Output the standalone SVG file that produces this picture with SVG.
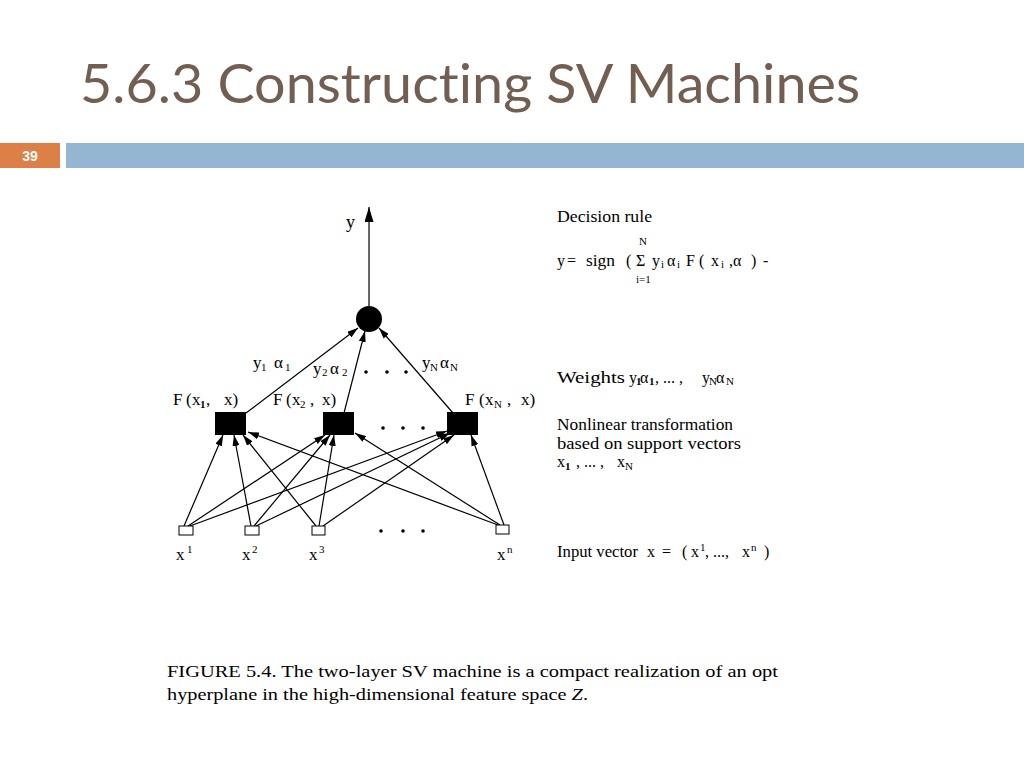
<svg xmlns="http://www.w3.org/2000/svg" width="1024" height="768" viewBox="0 0 1024 768">
<defs>
<style>
.t{font-family:"Liberation Serif",serif;fill:#000;}
.s{font-size:17px;}
.l{font-size:16px;}
.sub{font-size:11px;}
.c{stroke:#000;stroke-width:1.2;fill:none;marker-end:url(#ah);}
</style>
<marker id="ah" viewBox="0 0 11 7" refX="11" refY="3.5" markerWidth="11" markerHeight="7" markerUnits="userSpaceOnUse" orient="auto">
<path d="M0,0 L11,3.5 L0,7 z" fill="#000"/>
</marker>
<marker id="ahy" viewBox="0 0 15 9" refX="15" refY="4.5" markerWidth="15" markerHeight="9" markerUnits="userSpaceOnUse" orient="auto">
<path d="M0,0 L15,4.5 L0,9 z" fill="#000"/>
</marker>
</defs>
<rect width="1024" height="768" fill="#fff"/>
<text x="80" y="103" font-family="Lato,'Liberation Sans',sans-serif" font-size="54" fill="#735f52" style="font-variant-ligatures:none" textLength="780" lengthAdjust="spacingAndGlyphs">5.6.3 Constructing SV Machines</text>
<rect x="0" y="143" width="60" height="25" fill="#dd8047"/>
<text x="30" y="161" font-family="'Liberation Sans',sans-serif" font-size="14" font-weight="bold" fill="#fff" text-anchor="middle">39</text>
<rect x="66" y="143" width="958" height="25" fill="#94b6d2"/>

<g id="connectors">
<line x1="369" y1="306" x2="369" y2="207" stroke="#000" stroke-width="1.2" marker-end="url(#ahy)"/>
<line class="c" x1="246" y1="413" x2="358" y2="328"/>
<line class="c" x1="344" y1="413" x2="365" y2="331"/>
<line class="c" x1="453" y1="413" x2="379" y2="328"/>
<line class="c" x1="184" y1="526" x2="223" y2="435"/>
<line class="c" x1="251" y1="526" x2="234" y2="435"/>
<line class="c" x1="316" y1="526" x2="243" y2="435"/>
<line class="c" x1="498" y1="525" x2="248" y2="432"/>
<line class="c" x1="188" y1="526" x2="325" y2="435"/>
<line class="c" x1="254" y1="526" x2="330" y2="435"/>
<line class="c" x1="319" y1="526" x2="334" y2="435"/>
<line class="c" x1="500" y1="525" x2="355" y2="433"/>
<line class="c" x1="190" y1="526" x2="447" y2="431"/>
<line class="c" x1="256" y1="526" x2="450" y2="433"/>
<line class="c" x1="323" y1="526" x2="454" y2="435"/>
<line class="c" x1="504" y1="525" x2="471" y2="435"/>
</g>

<g id="output-node">
<circle cx="369" cy="319" r="13" fill="#000"/>
<text class="t" x="346" y="228" font-size="18">y</text>
</g>

<g id="hidden-1">
<rect x="215" y="412" width="31" height="23" fill="#000"/>
<text class="t s" x="173" y="405">F<tspan x="186">(</tspan><tspan x="192">x</tspan><tspan class="sub" x="200" dy="3" font-weight="bold">1</tspan><tspan x="206" dy="-3">,</tspan><tspan x="224">x)</tspan></text>
</g>
<g id="hidden-2">
<rect x="323" y="412" width="31" height="23" fill="#000"/>
<text class="t s" x="273" y="405">F<tspan x="286">(</tspan><tspan x="292">x</tspan><tspan class="sub" x="300" dy="3">2</tspan><tspan x="310" dy="-3">,</tspan><tspan x="322">x)</tspan></text>
</g>
<g id="hidden-3">
<rect x="447" y="412" width="31" height="23" fill="#000"/>
<text class="t s" x="465" y="405">F<tspan x="479">(</tspan><tspan x="485">x</tspan><tspan class="sub" x="494" dy="3">N</tspan><tspan x="507" dy="-3">,</tspan><tspan x="521">x)</tspan></text>
</g>

<g id="input-1">
<rect x="179" y="526" width="14" height="9" fill="#fff" stroke="#000" stroke-width="1"/>
<text class="t s" x="176" y="560">x<tspan class="sub" x="187" dy="-7">1</tspan></text>
</g>
<g id="input-2">
<rect x="245" y="526" width="14" height="9" fill="#fff" stroke="#000" stroke-width="1"/>
<text class="t s" x="242" y="560">x<tspan class="sub" x="252" dy="-7">2</tspan></text>
</g>
<g id="input-3">
<rect x="312" y="526" width="13" height="9" fill="#fff" stroke="#000" stroke-width="1"/>
<text class="t s" x="309" y="560">x<tspan class="sub" x="319" dy="-7">3</tspan></text>
</g>
<g id="input-n">
<rect x="496" y="525" width="13" height="9" fill="#fff" stroke="#000" stroke-width="1"/>
<text class="t s" x="497" y="560">x<tspan class="sub" x="507" dy="-7">n</tspan></text>
</g>

<g id="weight-labels">
<text class="t s" x="253" y="368">y<tspan class="sub" x="261" dy="3">1</tspan><tspan x="274" dy="-3">α</tspan><tspan class="sub" x="285" dy="3">1</tspan></text>
<text class="t s" x="313" y="374">y<tspan class="sub" x="322" dy="2">2</tspan><tspan x="330" dy="-2">α</tspan><tspan class="sub" x="342" dy="2">2</tspan></text>
<text class="t s" x="422" y="368">y<tspan class="sub" x="430" dy="3">N</tspan><tspan x="440" dy="-3">α</tspan><tspan class="sub" x="450" dy="3">N</tspan></text>
</g>

<g id="ellipses" fill="#000">
<circle cx="366" cy="372" r="1.8"/><circle cx="387" cy="372" r="1.8"/><circle cx="406" cy="372" r="1.8"/>
<circle cx="383" cy="428" r="1.8"/><circle cx="403" cy="428" r="1.8"/><circle cx="423" cy="428" r="1.8"/>
<circle cx="381" cy="531" r="1.8"/><circle cx="403" cy="531" r="1.8"/><circle cx="423" cy="531" r="1.8"/>
</g>

<g id="legend">
<text class="t l" x="557" y="222" textLength="95" lengthAdjust="spacingAndGlyphs">Decision rule</text>
<text class="t sub" x="639" y="245">N</text>
<text class="t l" x="557" y="266">y<tspan x="567">=</tspan><tspan x="586" textLength="29" lengthAdjust="spacingAndGlyphs">sign</tspan><tspan x="626">(</tspan><tspan x="636">Σ</tspan><tspan x="652">y</tspan><tspan class="sub" x="661" dy="2">i</tspan><tspan x="667" dy="-2">α</tspan><tspan class="sub" x="677" dy="2">i</tspan><tspan x="686" dy="-2">F</tspan><tspan x="699">(</tspan><tspan x="711">x</tspan><tspan class="sub" x="721" dy="2">i</tspan><tspan x="729" dy="-2">,α</tspan><tspan x="751">)</tspan><tspan x="763">-</tspan></text>
<text class="t sub" x="636" y="283">i=1</text>
<text class="t l" x="557" y="383"><tspan textLength="68" lengthAdjust="spacingAndGlyphs">Weights</tspan><tspan x="629">y</tspan><tspan class="sub" x="636" dy="2" font-weight="bold">1</tspan><tspan x="640" dy="-2">α</tspan><tspan class="sub" x="649" dy="2" font-weight="bold">1</tspan><tspan x="655" dy="-2">, ... ,</tspan><tspan x="702">y</tspan><tspan class="sub" x="709" dy="2">N</tspan><tspan x="716" dy="-2">α</tspan><tspan class="sub" x="726" dy="2">N</tspan></text>
<text class="t l" x="557" y="430" textLength="176" lengthAdjust="spacingAndGlyphs">Nonlinear transformation</text>
<text class="t l" x="557" y="449" textLength="184" lengthAdjust="spacingAndGlyphs">based on support vectors</text>
<text class="t l" x="557" y="467">x<tspan class="sub" x="565" dy="3" font-weight="bold">1</tspan><tspan x="576" dy="-3">, ... ,</tspan><tspan x="617">x</tspan><tspan class="sub" x="625" dy="3">N</tspan></text>
<text class="t l" x="557" y="557"><tspan textLength="81" lengthAdjust="spacingAndGlyphs">Input vector</tspan><tspan x="647">x</tspan><tspan x="662">=</tspan><tspan x="682">(</tspan><tspan x="691">x</tspan><tspan class="sub" x="700" dy="-6">1</tspan><tspan x="705" dy="6">, ...,</tspan><tspan x="742">x</tspan><tspan class="sub" x="751" dy="-6">n</tspan><tspan x="764" dy="6">)</tspan></text>
</g>

<g id="caption">
<text class="t" x="167" y="677" font-size="16" textLength="611" lengthAdjust="spacingAndGlyphs">FIGURE 5.4. The two-layer SV machine is a compact realization of an opt</text>
<text class="t" x="167" y="700" font-size="16" textLength="421" lengthAdjust="spacingAndGlyphs">hyperplane in the high-dimensional feature space <tspan font-style="italic">Z</tspan>.</text>
</g>
</svg>
